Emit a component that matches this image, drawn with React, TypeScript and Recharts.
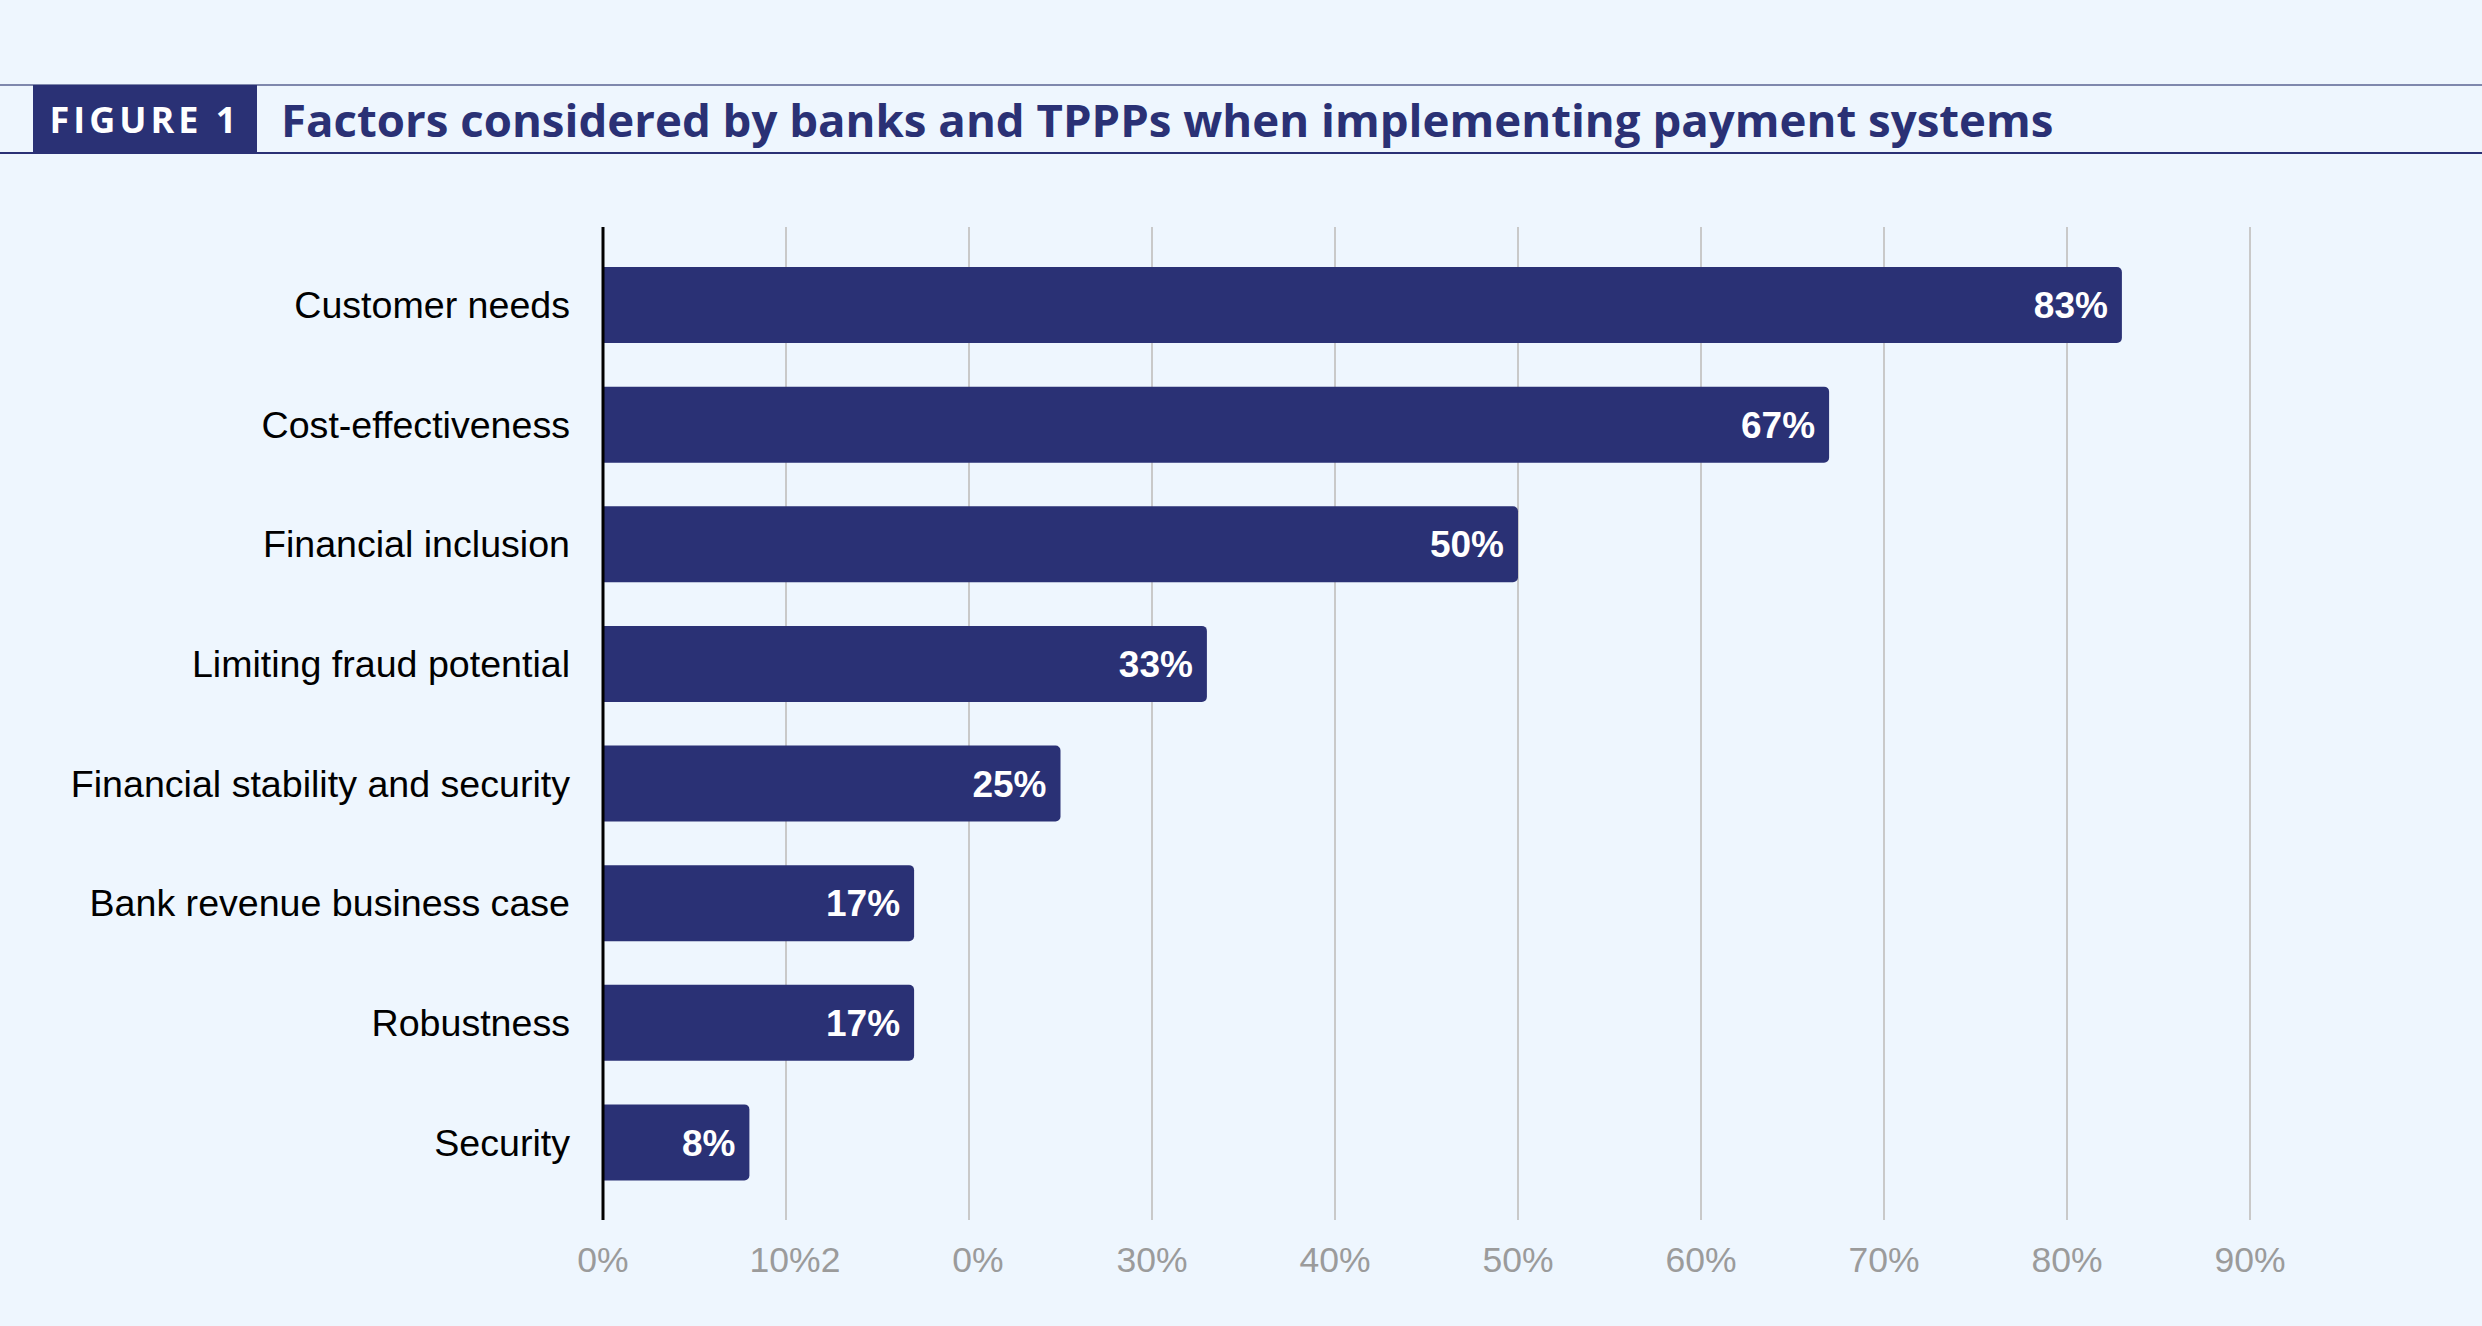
import { BarChart, Bar, XAxis, YAxis, CartesianGrid, LabelList } from 'recharts';

const FACTORS = [
  'Customer needs',
  'Cost-effectiveness',
  'Financial inclusion',
  'Limiting fraud potential',
  'Financial stability and security',
  'Bank revenue business case',
  'Robustness',
  'Security',
];
const SHARES = [83, 67, 50, 33, 25, 17, 17, 8];
const X_TICKS = [0, 10, 20, 30, 40, 50, 60, 70, 80, 90];
// tick labels as printed in the figure (the "2" of 20% slipped next to 10%)
const X_TICK_LABELS = ['0%', '10%2', '0%', '30%', '40%', '50%', '60%', '70%', '80%', '90%'];

const NAVY = '#2a3175';
const BG = '#eef6fe';
const SANS = '"Liberation Sans", Arial, Helvetica, sans-serif';

const data = FACTORS.map((name, i) => ({ name, value: SHARES[i] }));

const XTick = (props: any) => {
  const { x, y, payload, index } = props;
  const shift = index === 1 || index === 2 ? 9 : 0;
  return (
    <text x={x + shift} y={y} dy={25} textAnchor="middle" fill="#9b9b9b" fontSize={35.5} fontFamily={SANS}>
      {X_TICK_LABELS[index] ?? `${payload.value}%`}
    </text>
  );
};

export default function App() {
  return (
    <div style={{ position: 'fixed', left: 0, top: 0, width: 2482, height: 1326, background: BG, overflow: 'hidden' }}>
      {/* header band */}
      <div style={{ position: 'absolute', left: 0, top: 84, width: 2482, height: 2, background: '#7f88ad' }} />
      <div style={{ position: 'absolute', left: 0, top: 152, width: 2482, height: 2, background: NAVY }} />
      <div
        style={{
          position: 'absolute', left: 33, top: 85, width: 224, height: 68, background: NAVY,
          color: '#fff', fontFamily: '"Open Sans", sans-serif', fontWeight: 700, fontSize: 36,
          letterSpacing: 4, display: 'flex', alignItems: 'center', justifyContent: 'center',
        }}
      >
        FIGURE 1
      </div>
      <div
        style={{
          position: 'absolute', left: 281, top: 85, height: 68, display: 'flex', alignItems: 'center',
          color: NAVY, fontFamily: '"Open Sans", sans-serif', fontWeight: 700, fontSize: 45.6, whiteSpace: 'nowrap',
        }}
      >
        Factors considered by banks and TPPPs when implementing payment systems
      </div>

      <div style={{ position: 'absolute', left: 0, top: 0 }}>
        <BarChart
          width={2482}
          height={1326}
          data={data}
          layout="vertical"
          margin={{ top: 227, right: 232, bottom: 46, left: 0 }}
          barCategoryGap={0}
        >
          <CartesianGrid horizontal={false} vertical stroke="#c9c9c9" strokeWidth={2} />
          <XAxis
            type="number"
            domain={[0, 90]}
            ticks={X_TICKS}
            axisLine={false}
            tickLine={false}
            tickSize={0}
            tickMargin={27}
            height={60}
            tick={<XTick />}
            interval={0}
          />
          <YAxis
            type="category"
            dataKey="name"
            width={603}
            axisLine={{ stroke: '#000', strokeWidth: 3 }}
            tickLine={false}
            tickSize={0}
            tickMargin={33}
            padding={{ top: 18, bottom: 18 }}
            tick={{ fill: '#000', fontSize: 37.6, fontFamily: SANS }}
            interval={0}
          />
          <Bar dataKey="value" fill={NAVY} barSize={76} radius={[0, 5, 5, 0]} isAnimationActive={false}>
            <LabelList
              dataKey="value"
              position="insideRight"
              offset={14}
              fill="#fff"
              fontSize={37}
              fontWeight={700}
              fontFamily={SANS}
              formatter={(v: any) => `${v}%`}
            />
          </Bar>
        </BarChart>
      </div>
    </div>
  );
}
